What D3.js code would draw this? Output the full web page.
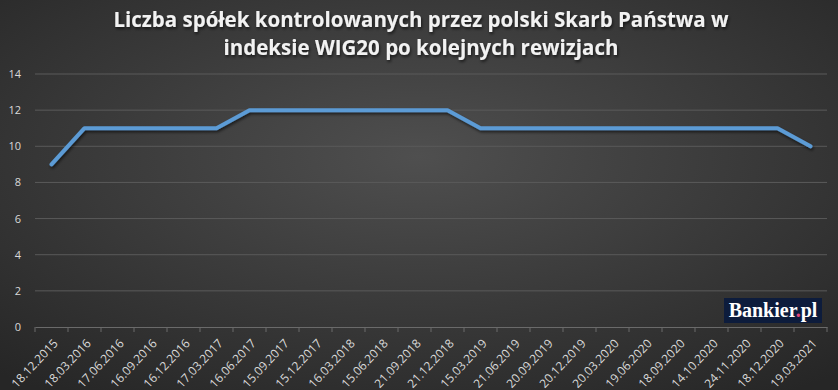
<!DOCTYPE html>
<html>
<head>
<meta charset="utf-8">
<script src="https://cdn.jsdelivr.net/npm/d3@7"></script>
<style>
  body { margin: 0; background: #333; }
  svg { display: block; }
</style>
</head>
<body>
<div id="chart"></div>
<script>
// revision dates and number of state-controlled companies in WIG20
var dates = ["18.12.2015","18.03.2016","17.06.2016","16.09.2016","16.12.2016","17.03.2017",
  "16.06.2017","15.09.2017","15.12.2017","16.03.2018","15.06.2018","21.09.2018","21.12.2018",
  "15.03.2019","21.06.2019","20.09.2019","20.12.2019","20.03.2020","19.06.2020","18.09.2020",
  "14.10.2020","24.11.2020","18.12.2020","19.03.2021"];
var counts = [9,11,11,11,11,11,12,12,12,12,12,12,12,11,11,11,11,11,11,11,11,11,11,10];
var yTicks = [0,2,4,6,8,10,12,14];

var W = 838, H = 390;
var m = {t: 74, r: 11, b: 63, l: 35};

var svg = d3.select("#chart").append("svg")
    .attr("width", W).attr("height", H);

// background gradient
var defs = svg.append("defs");
var grad = defs.append("radialGradient").attr("id", "bg")
    .attr("cx", "50%").attr("cy", "40%").attr("r", "75%");
grad.append("stop").attr("offset", "0%").attr("stop-color", "#4f4f4f");
grad.append("stop").attr("offset", "100%").attr("stop-color", "#262626");
var shadow = defs.append("filter").attr("id", "sh")
    .attr("x", "-5%").attr("y", "-20%").attr("width", "110%").attr("height", "140%");
shadow.append("feDropShadow").attr("dx", 1).attr("dy", 2).attr("stdDeviation", 1.5)
    .attr("flood-color", "#000").attr("flood-opacity", 0.6);

svg.append("rect").attr("width", W).attr("height", H).attr("fill", "url(#bg)");

// title
var title = svg.append("text")
    .attr("x", W / 2).attr("text-anchor", "middle")
    .style("font-family", "'Open Sans', sans-serif")
    .style("font-weight", "bold").style("font-size", "20.5px")
    .attr("fill", "#f2f2f2").attr("filter", "url(#sh)");
title.append("tspan").attr("x", W / 2 + 2).attr("y", 27)
    .text("Liczba spółek kontrolowanych przez polski Skarb Państwa w");
title.append("tspan").attr("x", W / 2 + 2).attr("y", 55)
    .text("indeksie WIG20 po kolejnych rewizjach");

var g = svg.append("g").attr("transform", "translate(" + m.l + "," + m.t + ")");
var w = W - m.l - m.r, h = H - m.t - m.b;

var x = d3.scaleBand().domain(dates).range([0, w]);
var y = d3.scaleLinear().domain([0, 14]).range([h, 0]);

// gridlines
g.selectAll(".grid").data(yTicks.slice(1)).enter().append("line")
    .attr("x1", 0).attr("x2", w)
    .attr("y1", function(d) { return y(d); }).attr("y2", function(d) { return y(d); })
    .attr("stroke", "#5a5a5a").attr("stroke-width", 1);

// y axis labels
var yAxis = g.append("g").call(d3.axisLeft(y).tickValues(yTicks).tickSize(0).tickPadding(14));
yAxis.select(".domain").remove();
yAxis.selectAll("text").attr("fill", "#d9d9d9")
    .style("font-family", "'Open Sans', sans-serif").style("font-size", "11px");

// x axis
var xAxis = g.append("g").attr("transform", "translate(0," + h + ")")
    .call(d3.axisBottom(x).tickSizeOuter(0).tickSize(0));
xAxis.select(".domain").attr("stroke", "#6a6a6a");
xAxis.selectAll(".tick line").remove();
// band boundary ticks
xAxis.selectAll(".bt").data(dates.concat([null])).enter().append("line")
    .attr("x1", function(d, i) { return i * x.bandwidth(); })
    .attr("x2", function(d, i) { return i * x.bandwidth(); })
    .attr("y1", 0).attr("y2", 5).attr("stroke", "#6a6a6a");
xAxis.selectAll(".tick text")
    .attr("fill", "#d9d9d9")
    .style("font-family", "'Open Sans', sans-serif").style("font-size", "12px")
    .attr("text-anchor", "end")
    .attr("x", 0).attr("y", 0).attr("dx", 0).attr("dy", "0.35em")
    .attr("transform", "translate(4,14) rotate(-47)");

// line
var line = d3.line()
    .x(function(d, i) { return x(dates[i]) + x.bandwidth() / 2; })
    .y(function(d) { return y(d); });
g.append("path").datum(counts)
    .attr("d", line)
    .attr("fill", "none").attr("stroke", "#5b9bd5")
    .attr("stroke-width", 4).attr("stroke-linecap", "round").attr("stroke-linejoin", "round")
    .attr("filter", "url(#sh)");

// logo
var logo = svg.append("g").attr("transform", "translate(724,298)");
logo.append("rect").attr("width", 98).attr("height", 25).attr("fill", "#0d1c3c");
var lt = logo.append("text").attr("x", 49).attr("y", 19).attr("text-anchor", "middle")
    .style("font-family", "'Liberation Serif', 'DejaVu Serif', serif")
    .style("font-weight", "bold").style("font-size", "20px").attr("fill", "#fff");
lt.append("tspan").text("Bankier");
lt.append("tspan").attr("fill", "#e0457b").text(".");
lt.append("tspan").text("pl");
</script>
</body>
</html>
